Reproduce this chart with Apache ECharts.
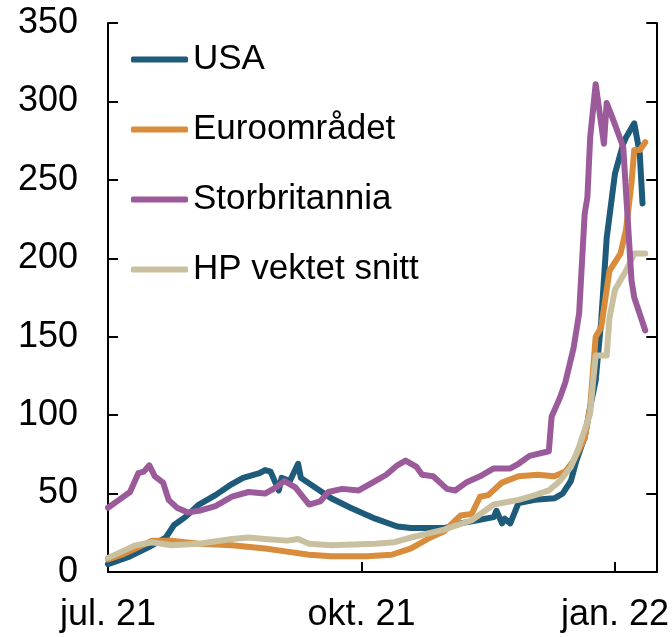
<!DOCTYPE html>
<html>
<head>
<meta charset="utf-8">
<title>Chart</title>
<script src="https://cdn.jsdelivr.net/npm/echarts@6/dist/echarts.min.js"></script>
<style>
  html, body { margin: 0; padding: 0; background: #fff; }
  #chart { width: 672px; height: 637px; }
</style>
</head>
<body>
<div id="chart"></div>
<script>
// [date, value] pairs
const usa = [
  ['2021-07-01', 5], ['2021-07-09', 10], ['2021-07-16', 16], ['2021-07-22', 22],
  ['2021-07-25', 30], ['2021-07-29', 35], ['2021-08-03', 43], ['2021-08-09', 49],
  ['2021-08-14', 55], ['2021-08-19', 60], ['2021-08-25', 63], ['2021-08-27', 65],
  ['2021-08-29', 64], ['2021-09-01', 52], ['2021-09-02', 60], ['2021-09-05', 58],
  ['2021-09-08', 69], ['2021-09-09', 60], ['2021-09-20', 47], ['2021-09-27', 41],
  ['2021-10-06', 34], ['2021-10-14', 29], ['2021-10-19', 28], ['2021-10-31', 28],
  ['2021-11-06', 31], ['2021-11-12', 33], ['2021-11-18', 35], ['2021-11-19', 39],
  ['2021-11-21', 31], ['2021-11-22', 34], ['2021-11-24', 31], ['2021-11-27', 44],
  ['2021-12-03', 46], ['2021-12-10', 47], ['2021-12-13', 50], ['2021-12-16', 58],
  ['2021-12-18', 71], ['2021-12-21', 86], ['2021-12-23', 105], ['2021-12-25', 122],
  ['2021-12-27', 160], ['2021-12-29', 213], ['2022-01-01', 254], ['2022-01-04', 273],
  ['2022-01-05', 277], ['2022-01-08', 286], ['2022-01-10', 267], ['2022-01-11', 235]
];
const euro = [
  ['2021-07-01', 8], ['2021-07-06', 11], ['2021-07-11', 15], ['2021-07-17', 20],
  ['2021-07-24', 20], ['2021-08-03', 18], ['2021-08-15', 17], ['2021-08-27', 15],
  ['2021-09-04', 13], ['2021-09-12', 11], ['2021-09-20', 10], ['2021-10-03', 10],
  ['2021-10-12', 11], ['2021-10-19', 15], ['2021-10-26', 22], ['2021-10-31', 26],
  ['2021-11-06', 36], ['2021-11-10', 37], ['2021-11-13', 48], ['2021-11-16', 49],
  ['2021-11-21', 57], ['2021-11-27', 61], ['2021-12-04', 62], ['2021-12-10', 61],
  ['2021-12-14', 64], ['2021-12-17', 71], ['2021-12-21', 85], ['2021-12-23', 105],
  ['2021-12-25', 150], ['2021-12-27', 156], ['2021-12-30', 192], ['2022-01-03', 203],
  ['2022-01-05', 218], ['2022-01-07', 248], ['2022-01-08', 269], ['2022-01-10', 269],
  ['2022-01-12', 274]
];
const uk = [
  ['2021-07-01', 41], ['2021-07-05', 46], ['2021-07-09', 51], ['2021-07-12', 63],
  ['2021-07-14', 64], ['2021-07-16', 68], ['2021-07-18', 61], ['2021-07-21', 57],
  ['2021-07-23', 46], ['2021-07-26', 41], ['2021-07-30', 38], ['2021-08-03', 39],
  ['2021-08-09', 42], ['2021-08-15', 48], ['2021-08-21', 51], ['2021-08-27', 50],
  ['2021-08-31', 54], ['2021-09-03', 58], ['2021-09-07', 54], ['2021-09-12', 43],
  ['2021-09-16', 45], ['2021-09-19', 51], ['2021-09-24', 53], ['2021-09-30', 52],
  ['2021-10-05', 57], ['2021-10-10', 62], ['2021-10-14', 68], ['2021-10-17', 71],
  ['2021-10-21', 67], ['2021-10-23', 62], ['2021-10-27', 61], ['2021-11-01', 53],
  ['2021-11-04', 52], ['2021-11-08', 57], ['2021-11-13', 61], ['2021-11-18', 66],
  ['2021-11-24', 66], ['2021-11-27', 69], ['2021-12-01', 74], ['2021-12-08', 77],
  ['2021-12-09', 99], ['2021-12-12', 111], ['2021-12-14', 121], ['2021-12-17', 143],
  ['2021-12-19', 165], ['2021-12-21', 228], ['2021-12-22', 239], ['2021-12-23', 277],
  ['2021-12-25', 311], ['2021-12-28', 273], ['2021-12-29', 299], ['2021-12-31', 290],
  ['2022-01-04', 271], ['2022-01-07', 186], ['2022-01-08', 175], ['2022-01-12', 154]
];
const hp = [
  ['2021-07-01', 9], ['2021-07-06', 13], ['2021-07-11', 17], ['2021-07-17', 19],
  ['2021-07-24', 17], ['2021-08-03', 18], ['2021-08-15', 21], ['2021-08-21', 22],
  ['2021-08-27', 21], ['2021-09-04', 20], ['2021-09-08', 21], ['2021-09-12', 18],
  ['2021-09-20', 17], ['2021-10-06', 18], ['2021-10-13', 19], ['2021-10-19', 22],
  ['2021-10-31', 27], ['2021-11-10', 33], ['2021-11-18', 43], ['2021-11-27', 46],
  ['2021-12-03', 49], ['2021-12-08', 52], ['2021-12-12', 58], ['2021-12-16', 67],
  ['2021-12-19', 80], ['2021-12-23', 101], ['2021-12-24', 120], ['2021-12-25', 138],
  ['2021-12-29', 138], ['2021-12-30', 162], ['2022-01-01', 180], ['2022-01-03', 186],
  ['2022-01-05', 192], ['2022-01-08', 203], ['2022-01-12', 203]
];

const seriesNames = ['USA', 'Euroområdet', 'Storbritannia', 'HP vektet snitt'];
const colors = ['#1e5b7b', '#d98c3c', '#9b5b9b', '#c9c0a0'];
const xTickDates = ['2021-07-01', '2021-10-01', '2022-01-01'];
const xTickLabels = ['jul. 21', 'okt. 21', 'jan. 22'];
const xMin = '2021-07-01';
const xMax = '2022-01-16';

// dates -> timestamps, used on a plain value axis
function ts(s) {
  const p = s.split('-').map(Number);
  return Date.UTC(p[0], p[1] - 1, p[2]);
}
const toPoints = arr => arr.map(d => [ts(d[0]), d[1]]);

const font = 'Liberation Sans, Arial, sans-serif';
const tickTs = xTickDates.map(ts);

const chart = echarts.init(document.getElementById('chart'));

function line(name, data, color) {
  return {
    name: name,
    type: 'line',
    xAxisIndex: 0,
    yAxisIndex: 0,
    data: toPoints(data),
    symbol: 'none',
    showSymbol: false,
    lineStyle: { color: color, width: 6, cap: 'round', join: 'round' },
    itemStyle: { color: color }
  };
}

chart.setOption({
  animation: false,
  textStyle: { fontFamily: font },
  grid: { left: 108, right: 13, top: 23, bottom: 65 },
  legend: {
    data: seriesNames,
    orient: 'vertical',
    left: 126,
    top: 37,
    itemWidth: 57,
    itemHeight: 6,
    itemGap: 35,
    icon: 'roundRect',
    textStyle: { fontSize: 35, color: '#000', fontFamily: font }
  },
  xAxis: [{
    type: 'value',
    min: ts(xMin),
    max: ts(xMax),
    axisLine: { show: true, lineStyle: { color: '#000', width: 2 } },
    axisTick: { show: true, inside: true, length: 10, lineStyle: { color: '#000', width: 2 }, customValues: tickTs },
    axisLabel: {
      customValues: tickTs,
      formatter: v => {
        const i = tickTs.indexOf(v);
        return i >= 0 ? xTickLabels[i] : '';
      },
      fontSize: 36,
      color: '#000',
      margin: 25,
      fontFamily: font
    },
    splitLine: { show: false }
  }, {
    type: 'value',
    position: 'top',
    min: ts(xMin),
    max: ts(xMax),
    axisLine: { show: true, lineStyle: { color: '#000', width: 2 } },
    axisTick: { show: false },
    axisLabel: { show: false },
    splitLine: { show: false }
  }],
  yAxis: [{
    type: 'value',
    min: 0,
    max: 350,
    interval: 50,
    axisLine: { show: true, lineStyle: { color: '#000', width: 2 } },
    axisTick: { show: true, inside: true, length: 10, lineStyle: { color: '#000', width: 2 } },
    axisLabel: { fontSize: 36, color: '#000', margin: 30, fontFamily: font },
    splitLine: { show: false }
  }, {
    type: 'value',
    position: 'right',
    min: 0,
    max: 350,
    interval: 50,
    axisLine: { show: true, lineStyle: { color: '#000', width: 2 } },
    axisTick: { show: true, inside: true, length: 10, lineStyle: { color: '#000', width: 2 } },
    axisLabel: { show: false },
    splitLine: { show: false }
  }],
  series: [
    line(seriesNames[0], usa, colors[0]),
    line(seriesNames[1], euro, colors[1]),
    line(seriesNames[3], hp, colors[3]),
    line(seriesNames[2], uk, colors[2])
  ]
});
</script>
</body>
</html>
